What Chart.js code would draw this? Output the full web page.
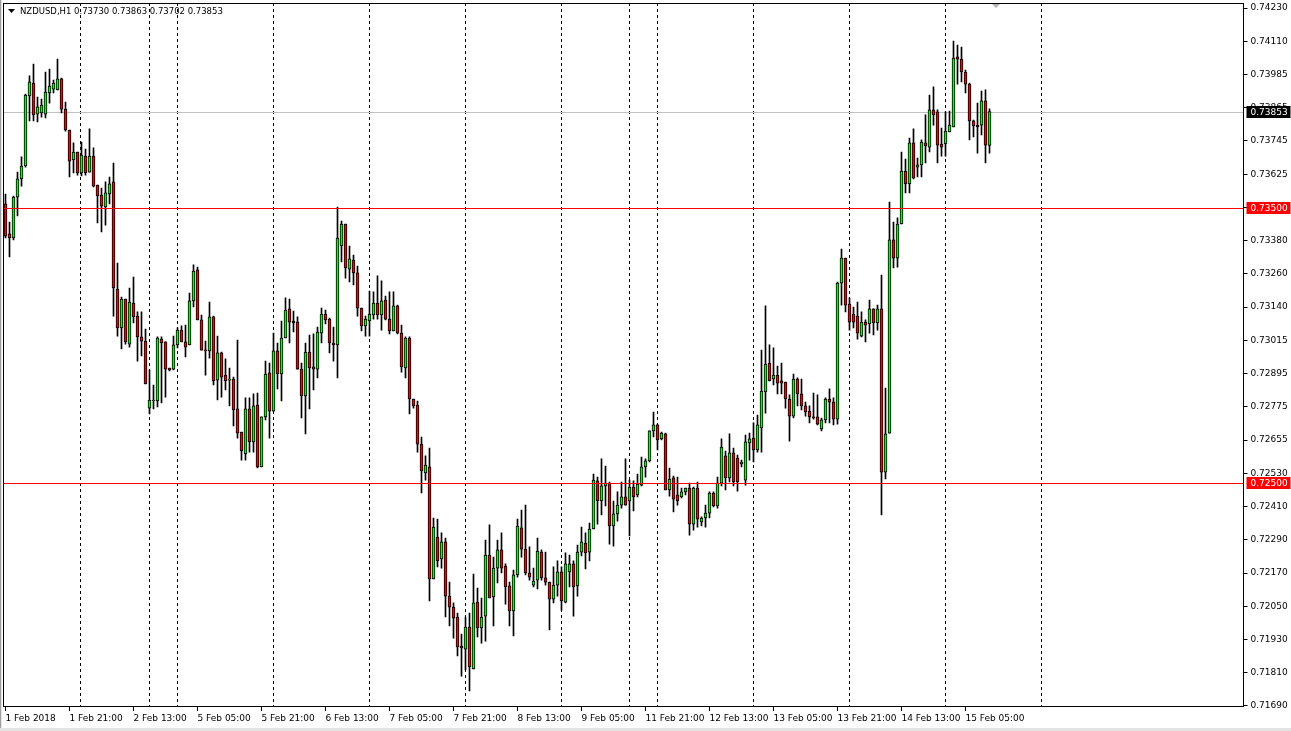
<!DOCTYPE html>
<html>
<head>
<meta charset="utf-8">
<title>NZDUSD,H1</title>
<script src="https://cdn.jsdelivr.net/npm/chart.js@4.4.1/dist/chart.umd.min.js"></script>
<style>
  html, body { margin: 0; padding: 0; background: #fff; }
  #wrap { width: 1291px; height: 731px; }
</style>
</head>
<body>
<div id="wrap"><canvas id="chart" width="1291" height="731"></canvas></div>
<script>
// NZDUSD H1, 1 Feb 2018 05:00 -> 15 Feb 2018 11:00 (broker time)
const header = ['NZDUSD,H1', '0.73730', '0.73863', '0.73702', '0.73853'];

// trading sessions per day: [day, first hour, last hour]
const sessions = [
  ['1 Feb', 5, 23], ['2 Feb', 0, 16], ['4 Feb', 17, 23], ['5 Feb', 0, 23], ['6 Feb', 0, 23],
  ['7 Feb', 0, 23], ['8 Feb', 0, 23], ['9 Feb', 0, 16], ['11 Feb', 17, 23], ['12 Feb', 0, 23],
  ['13 Feb', 0, 23], ['14 Feb', 0, 23], ['15 Feb', 0, 23], ['16 Feb', 0, 23]
];

const open = [
  0.73517,0.73408,0.73393,0.73542,0.73608,0.73655,0.73910,0.73957,0.73844,0.73848,
  0.73844,0.73921,0.73935,0.73932,0.73972,0.73862,0.73786,0.73677,0.73706,0.73630,
  0.73691,0.73633,0.73691,0.73586,0.73549,0.73506,0.73553,0.73597,0.73207,0.73066,
  0.73171,0.73007,0.73156,0.73109,0.73033,0.73018,0.72774,0.72800,0.72800,0.73025,
  0.73015,0.72920,0.72916,0.73004,0.73058,0.73015,0.73004,0.73164,0.73277,0.73095,
  0.72985,0.72982,0.73106,0.72876,0.72975,0.72894,0.72876,0.72880,0.72771,0.72687,
  0.72607,0.72771,0.72651,0.72785,0.72560,0.72742,0.72902,0.72763,0.72982,0.72898,
  0.73029,0.73135,0.73091,0.73087,0.72916,0.72818,0.72978,0.72924,0.72916,0.73047,
  0.73116,0.73098,0.73011,0.73004,0.73364,0.73444,0.73280,0.73313,0.73266,0.73138,
  0.73073,0.73091,0.73113,0.73156,0.73113,0.73167,0.73098,0.73055,0.73146,0.73047,
  0.72920,0.73029,0.72807,0.72785,0.72643,0.72538,0.72560,0.72152,0.72305,0.72225,
  0.72287,0.72090,0.72050,0.72014,0.71908,0.71897,0.71977,0.71825,0.72068,0.71974,
  0.72017,0.72239,0.72087,0.72192,0.72258,0.72199,0.72127,0.72036,0.72167,0.72338,
  0.72261,0.72174,0.72130,0.72148,0.72250,0.72156,0.72141,0.72079,0.72130,0.72178,
  0.72068,0.72178,0.72207,0.72127,0.72250,0.72283,0.72250,0.72334,0.72509,0.72436,
  0.72491,0.72501,0.72345,0.72389,0.72421,0.72451,0.72436,0.72487,0.72458,0.72494,
  0.72560,0.72582,0.72691,0.72713,0.72662,0.72680,0.72476,0.72520,0.72458,0.72451,
  0.72469,0.72483,0.72352,0.72483,0.72360,0.72374,0.72392,0.72465,0.72418,0.72501,
  0.72600,0.72520,0.72611,0.72592,0.72571,0.72512,0.72647,0.72665,0.72622,0.72702,
  0.72833,0.72938,0.72880,0.72894,0.72873,0.72869,0.72807,0.72745,0.72880,0.72826,
  0.72782,0.72763,0.72742,0.72742,0.72698,0.72731,0.72807,0.72796,0.72734,0.73229,
  0.73320,0.73153,0.73116,0.73109,0.73036,0.73087,0.73080,0.73135,0.73084,0.73135,
  0.72541,0.72683,0.73386,0.73320,0.73444,0.73637,0.73590,0.73739,0.73651,0.73659,
  0.73739,0.73724,0.73859,0.73852,0.73735,0.73735,0.73779,0.73797,0.74052,0.74044,
  0.73997,0.73953,0.73819,0.73804,0.73804,0.73892,0.73730
];
const high = [
  0.73553,0.73451,0.73546,0.73633,0.73688,0.73917,0.73983,0.74026,0.73906,0.73899,
  0.73997,0.74008,0.73968,0.74044,0.73975,0.73888,0.73786,0.73739,0.73706,0.73742,
  0.73717,0.73790,0.73721,0.73586,0.73575,0.73597,0.73615,0.73666,0.73302,0.73178,
  0.73171,0.73211,0.73251,0.73124,0.73124,0.73062,0.72913,0.72858,0.73033,0.73033,
  0.73015,0.72920,0.73036,0.73066,0.73073,0.73076,0.73193,0.73295,0.73287,0.73113,
  0.73018,0.73160,0.73109,0.73036,0.72978,0.72953,0.72920,0.72887,0.73022,0.72687,
  0.72811,0.72811,0.72826,0.72829,0.72742,0.72945,0.72938,0.73047,0.73011,0.73091,
  0.73175,0.73171,0.73127,0.73106,0.72938,0.73011,0.73040,0.73044,0.73069,0.73138,
  0.73131,0.73102,0.73069,0.73506,0.73455,0.73444,0.73364,0.73331,0.73291,0.73138,
  0.73109,0.73200,0.73197,0.73255,0.73237,0.73182,0.73197,0.73197,0.73149,0.73076,
  0.73033,0.73033,0.72807,0.72800,0.72669,0.72600,0.72629,0.72374,0.72370,0.72320,
  0.72301,0.72141,0.72065,0.72028,0.71952,0.72014,0.72028,0.72170,0.72119,0.72083,
  0.72294,0.72349,0.72232,0.72294,0.72320,0.72207,0.72141,0.72185,0.72370,0.72403,
  0.72421,0.72269,0.72192,0.72301,0.72258,0.72250,0.72141,0.72196,0.72218,0.72196,
  0.72247,0.72239,0.72218,0.72276,0.72341,0.72320,0.72356,0.72534,0.72523,0.72589,
  0.72563,0.72505,0.72436,0.72469,0.72505,0.72589,0.72512,0.72509,0.72534,0.72596,
  0.72589,0.72691,0.72760,0.72716,0.72687,0.72683,0.72556,0.72527,0.72523,0.72483,
  0.72483,0.72501,0.72487,0.72505,0.72378,0.72421,0.72469,0.72469,0.72523,0.72662,
  0.72618,0.72680,0.72629,0.72603,0.72585,0.72676,0.72683,0.72720,0.72749,0.72985,
  0.73146,0.73004,0.72993,0.72927,0.72938,0.72869,0.72822,0.72898,0.72884,0.72880,
  0.72796,0.72782,0.72829,0.72822,0.72738,0.72811,0.72844,0.72811,0.73233,0.73353,
  0.73320,0.73175,0.73142,0.73160,0.73124,0.73095,0.73167,0.73135,0.73149,0.73258,
  0.72847,0.73524,0.73451,0.73466,0.73706,0.73680,0.73757,0.73790,0.73684,0.73750,
  0.73841,0.73913,0.73943,0.73859,0.73793,0.73852,0.73855,0.74110,0.74095,0.74088,
  0.74004,0.73957,0.73822,0.73884,0.73928,0.73932,0.73863
];
const low = [
  0.73393,0.73324,0.73386,0.73473,0.73582,0.73651,0.73819,0.73819,0.73815,0.73833,
  0.73830,0.73884,0.73921,0.73932,0.73848,0.73782,0.73615,0.73630,0.73622,0.73619,
  0.73622,0.73633,0.73579,0.73448,0.73415,0.73440,0.73517,0.73109,0.73036,0.72989,
  0.73007,0.72996,0.73084,0.72945,0.72964,0.72862,0.72753,0.72771,0.72778,0.72793,
  0.72814,0.72909,0.72913,0.72993,0.73015,0.72960,0.73004,0.73142,0.73095,0.72985,
  0.72894,0.72956,0.72858,0.72804,0.72814,0.72840,0.72782,0.72709,0.72665,0.72585,
  0.72585,0.72614,0.72614,0.72556,0.72560,0.72731,0.72665,0.72763,0.72844,0.72800,
  0.73029,0.73011,0.73051,0.72916,0.72738,0.72680,0.72771,0.72840,0.72884,0.73011,
  0.73080,0.72975,0.72945,0.72884,0.73306,0.73247,0.73233,0.73222,0.73109,0.73055,
  0.73036,0.73036,0.73098,0.73098,0.73058,0.73095,0.73044,0.73055,0.73044,0.72905,
  0.72884,0.72753,0.72774,0.72614,0.72465,0.72512,0.72072,0.72152,0.72196,0.72192,
  0.72014,0.71981,0.71937,0.71872,0.71799,0.71821,0.71745,0.71825,0.71941,0.71919,
  0.71926,0.72083,0.71981,0.72138,0.72174,0.72061,0.71981,0.71945,0.72159,0.72232,
  0.72167,0.72148,0.72123,0.72116,0.72148,0.72130,0.71967,0.72065,0.72090,0.72039,
  0.72065,0.72123,0.72017,0.72090,0.72236,0.72189,0.72218,0.72334,0.72352,0.72385,
  0.72418,0.72279,0.72272,0.72363,0.72410,0.72421,0.72309,0.72400,0.72451,0.72491,
  0.72523,0.72578,0.72669,0.72622,0.72658,0.72476,0.72454,0.72396,0.72421,0.72447,
  0.72458,0.72312,0.72330,0.72341,0.72345,0.72341,0.72374,0.72414,0.72410,0.72491,
  0.72476,0.72505,0.72491,0.72472,0.72560,0.72494,0.72585,0.72578,0.72614,0.72614,
  0.72756,0.72873,0.72858,0.72826,0.72826,0.72774,0.72654,0.72738,0.72782,0.72767,
  0.72745,0.72720,0.72734,0.72713,0.72691,0.72720,0.72720,0.72713,0.72716,0.73149,
  0.73124,0.73058,0.73066,0.73025,0.73033,0.73015,0.73047,0.73040,0.73058,0.72385,
  0.72516,0.72683,0.73284,0.73287,0.73444,0.73557,0.73557,0.73608,0.73615,0.73615,
  0.73666,0.73706,0.73804,0.73666,0.73691,0.73691,0.73779,0.73797,0.73953,0.73961,
  0.73921,0.73750,0.73761,0.73702,0.73768,0.73666,0.73702
];
const close = [
  0.73400,0.73393,0.73542,0.73608,0.73655,0.73913,0.73961,0.73841,0.73870,0.73877,
  0.73924,0.73946,0.73957,0.73972,0.73862,0.73786,0.73673,0.73706,0.73630,0.73695,
  0.73630,0.73691,0.73582,0.73546,0.73509,0.73557,0.73590,0.73211,0.73066,0.73171,
  0.73015,0.73160,0.73106,0.73033,0.73018,0.72862,0.72803,0.72800,0.73029,0.73011,
  0.72916,0.72913,0.73004,0.73058,0.73015,0.72996,0.73164,0.73273,0.73095,0.72985,
  0.72982,0.73106,0.72873,0.72975,0.72887,0.72873,0.72876,0.72767,0.72683,0.72618,
  0.72771,0.72651,0.72782,0.72560,0.72742,0.72898,0.72763,0.72982,0.72898,0.73029,
  0.73131,0.73087,0.73084,0.72916,0.72818,0.72978,0.72920,0.72916,0.73051,0.73116,
  0.73095,0.73011,0.73004,0.73393,0.73444,0.73284,0.73317,0.73266,0.73138,0.73073,
  0.73098,0.73116,0.73156,0.73113,0.73164,0.73098,0.73055,0.73146,0.73047,0.72924,
  0.73029,0.72807,0.72782,0.72643,0.72545,0.72567,0.72152,0.72341,0.72218,0.72287,
  0.72090,0.72050,0.72010,0.71905,0.71901,0.71977,0.71832,0.72065,0.71974,0.72014,
  0.72239,0.72083,0.72192,0.72258,0.72192,0.72123,0.72036,0.72167,0.72345,0.72261,
  0.72174,0.72159,0.72145,0.72254,0.72156,0.72141,0.72079,0.72130,0.72178,0.72072,
  0.72207,0.72207,0.72123,0.72250,0.72287,0.72247,0.72334,0.72512,0.72436,0.72491,
  0.72501,0.72345,0.72389,0.72421,0.72451,0.72421,0.72487,0.72451,0.72498,0.72560,
  0.72582,0.72691,0.72713,0.72658,0.72683,0.72476,0.72516,0.72443,0.72436,0.72469,
  0.72483,0.72352,0.72483,0.72370,0.72374,0.72392,0.72465,0.72418,0.72501,0.72632,
  0.72520,0.72611,0.72505,0.72505,0.72578,0.72651,0.72662,0.72622,0.72713,0.72836,
  0.72934,0.72873,0.72894,0.72865,0.72865,0.72807,0.72745,0.72880,0.72826,0.72782,
  0.72760,0.72742,0.72738,0.72716,0.72731,0.72807,0.72796,0.72734,0.73229,0.73320,
  0.73149,0.73087,0.73087,0.73047,0.73087,0.73076,0.73135,0.73084,0.73135,0.72541,
  0.72680,0.73386,0.73320,0.73444,0.73637,0.73590,0.73739,0.73611,0.73659,0.73742,
  0.73728,0.73859,0.73841,0.73731,0.73724,0.73782,0.73804,0.74048,0.74044,0.73997,
  0.73953,0.73819,0.73801,0.73797,0.73892,0.73731,0.73853
];

// price scale labels (right side), top to bottom
const priceTicks = [
  '0.74230','0.74110','0.73985','0.73865','0.73745','0.73625','0.73500','0.73380',
  '0.73260','0.73140','0.73015','0.72895','0.72775','0.72655','0.72530','0.72410',
  '0.72290','0.72170','0.72050','0.71930','0.71810','0.71690'
];
// horizontal lines: [price, colour, label]
const levels = [
  [0.73500, '#ff0000', '0.73500'],
  [0.72500, '#ff0000', '0.72500']
];
const bid = 0.73853;

const BULL = '#00ff00';
const BEAR = '#ff0000';
const FONT = "'DejaVu Sans', sans-serif";
const SLOTS = 310;

// time axis
const times = [];
sessions.forEach(([d, h0, h1]) => {
  for (let h = h0; h <= h1; h++) times.push({ day: d, hour: h });
});
while (times.length < SLOTS) times.push({ day: '', hour: 0 });
const xLabels = times.map((t, i) => {
  if (!t.day) return '';
  if (i === 0) return t.day + ' 2018';
  return t.day + ' ' + String(t.hour).padStart(2, '0') + ':00';
});
// day separators (first bar of every new day)
const separators = [];
times.forEach((t, i) => {
  if (i > 0 && t.day && t.day !== times[i - 1].day) separators.push(i);
});

const tickTop = 0.74230, tickBottom = 0.71690;
const tickStep = (tickTop - tickBottom) / (priceTicks.length - 1);
const pxPerUnit = 698 / (tickTop - tickBottom);
const yMax = tickTop + 5 / pxPerUnit;
const yMin = tickBottom - 1 / pxPerUnit;

// drawing of frame, separators, lines, price boxes, header
const mt4Plugin = {
  id: 'mt4',
  beforeDraw(chart) {
    const c = chart.ctx;
    c.save();
    c.fillStyle = '#ffffff';
    c.fillRect(0, 0, chart.width, chart.height);
    c.fillStyle = '#a0a0a0';
    c.fillRect(0, 0, 1, chart.height);
    c.fillStyle = '#e3e3e3';
    c.fillRect(1, 0, 1, chart.height);
    c.fillRect(0, chart.height - 3, chart.width, 3);
    c.restore();
  },
  beforeDatasetsDraw(chart) {
    const c = chart.ctx, a = chart.chartArea, x = chart.scales.x;
    c.save();
    c.strokeStyle = '#000';
    c.lineWidth = 1;
    c.setLineDash([3, 3]);
    separators.forEach(i => {
      const px = Math.round(x.getPixelForValue(i)) - 0.5;
      c.beginPath();
      c.moveTo(px, a.top);
      c.lineTo(px, a.bottom);
      c.stroke();
    });
    c.setLineDash([]);
    const yb = Math.floor(chart.scales.y.getPixelForValue(bid)) + 1;
    c.fillStyle = '#c0c0c0';
    c.fillRect(a.left, yb, a.right - a.left, 1);
    c.restore();
  },
  afterDatasetsDraw(chart) {
    const c = chart.ctx, a = chart.chartArea, y = chart.scales.y;
    c.save();
    levels.forEach(([p, col]) => {
      const py = Math.floor(y.getPixelForValue(p));
      c.fillStyle = col;
      c.fillRect(a.left, py, a.right - a.left, 1);
    });
    c.restore();
  },
  afterDraw(chart) {
    const c = chart.ctx, a = chart.chartArea, y = chart.scales.y;
    c.save();
    // frame
    c.strokeStyle = '#000';
    c.lineWidth = 1;
    c.strokeRect(a.left, a.top + 0.5, a.right - a.left, a.bottom - a.top - 1);
    // price boxes on the axis
    c.font = '9px ' + FONT;
    c.textBaseline = 'middle';
    const box = (py, bg, txt) => {
      c.fillStyle = bg;
      c.fillRect(a.right + 3, py - 6, 44, 12);
      c.fillStyle = '#fff';
      c.fillText(txt, a.right + 7, py + 0.5);
    };
    levels.forEach(([p, col, txt]) => box(Math.floor(y.getPixelForValue(p)), col, txt));
    box(Math.floor(y.getPixelForValue(bid)) + 1, '#000', bid.toFixed(5));
    // header
    c.fillStyle = '#000';
    c.beginPath();
    c.moveTo(8, 9); c.lineTo(15, 9); c.lineTo(11.5, 13); c.closePath();
    c.fill();
    c.font = '8.5px ' + FONT;
    c.textBaseline = 'middle';
    c.fillText(header.join(' '), 20, 12);
    // shift marker
    c.fillStyle = '#b4b4b4';
    c.beginPath();
    c.moveTo(992, 4); c.lineTo(1000, 4); c.lineTo(996, 8); c.closePath();
    c.fill();
    c.restore();
  }
};

new Chart(document.getElementById('chart'), {
  type: 'bar',
  data: {
    labels: xLabels,
    datasets: [
      {
        label: 'body',
        data: open.map((o, i) => [o, close[i]]),
        backgroundColor: open.map((o, i) => close[i] >= o ? BULL : BEAR),
        borderColor: '#000',
        borderWidth: 1,
        borderSkipped: false,
        barThickness: 3,
        minBarLength: 1,
        grouped: false,
        order: 0
      },
      {
        label: 'wick',
        data: low.map((l, i) => [l, high[i]]),
        backgroundColor: '#000',
        borderWidth: 0,
        barThickness: 1,
        grouped: false,
        order: 1
      }
    ]
  },
  options: {
    responsive: false,
    animation: false,
    devicePixelRatio: 1,
    layout: { padding: { left: 3.5, right: 1.5, top: 3, bottom: 0 } },
    plugins: { legend: { display: false }, tooltip: { enabled: false } },
    scales: {
      x: {
        type: 'category',
        offset: true,
        afterBuildTicks: s => {
          s.ticks = s.ticks.filter(t => t.value % 16 === 0 && t.value < open.length);
        },
        afterFit: s => {
          s.height = 24;
          s.paddingLeft = 0; s.paddingRight = 0;
        },
        ticks: {
          autoSkip: false, maxRotation: 0, align: 'start', padding: 2,
          color: '#000', font: { family: FONT, size: 9 }
        },
        grid: { offset: false, drawOnChartArea: false, tickLength: 4, color: '#000' },
        border: { display: false }
      },
      y: {
        position: 'right',
        min: yMin,
        max: yMax,
        afterBuildTicks: s => {
          s.ticks = priceTicks.map((_, k) => ({ value: tickTop - k * tickStep }));
        },
        afterFit: s => {
          s.width = 46;
          s.paddingTop = 0; s.paddingBottom = 0;
        },
        ticks: {
          autoSkip: false, padding: 3,
          callback: (v, i) => priceTicks[i],
          color: '#000', font: { family: FONT, size: 9 }
        },
        grid: { drawOnChartArea: false, tickLength: 4, color: '#000' },
        border: { display: false }
      }
    }
  },
  plugins: [mt4Plugin]
});
</script>
</body>
</html>
